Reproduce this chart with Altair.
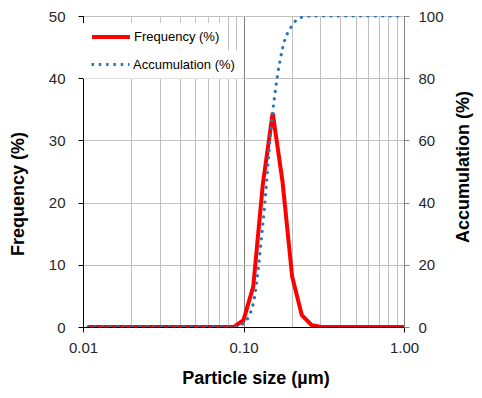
import altair as alt
import pandas as pd

# Particle size bins (µm)
sizes = [0.0107, 0.0123, 0.0141, 0.0163, 0.0187, 0.0215, 0.0247, 0.0284, 0.0327,
         0.0376, 0.0432, 0.0497, 0.0572, 0.0658, 0.0756, 0.0870, 0.100, 0.115,
         0.132, 0.152, 0.175, 0.201, 0.231, 0.266, 0.306, 0.352, 0.405, 0.465,
         0.535, 0.615, 0.708, 0.814, 0.936, 1.00]
# Frequency (%)
frequency = [0, 0, 0, 0, 0, 0, 0, 0, 0, 0, 0, 0, 0, 0, 0, 0, 1.1, 6.5,
             23.0, 34.4, 23.4, 8.1, 1.9, 0.3, 0, 0, 0, 0, 0, 0, 0, 0, 0, 0]
# Accumulation (%)
accumulation = [0, 0, 0, 0, 0, 0, 0, 0, 0, 0, 0, 0, 0, 0, 0, 0, 1.2, 7.5,
                33.0, 69.0, 89.5, 97.0, 99.6, 100, 100, 100, 100, 100, 100,
                100, 100, 100, 100, 100]

x_major = [0.01, 0.1, 1.0]
x_minor = [0.02, 0.03, 0.04, 0.05, 0.06, 0.07, 0.08, 0.09,
           0.2, 0.3, 0.4, 0.5, 0.6, 0.7, 0.8, 0.9]
freq_ticks = [0, 10, 20, 30, 40, 50]
acc_ticks = [0, 20, 40, 60, 80, 100]

df = pd.DataFrame({"size": sizes, "freq": frequency, "acc": accumulation})

FONT = "Liberation Sans"
LABEL_COLOR = "#262626"

x_scale = alt.Scale(type="log", domain=[0.01, 1.0])

leg_common = dict(orient="none", title=None, symbolType="stroke", symbolSize=1444,
                  clipHeight=14, fillColor="white", padding=7, labelFontSize=13,
                  labelFont=FONT, labelColor="black", labelOffset=2, legendX=0)

freq_line = alt.Chart(df).transform_calculate(series="'Frequency (%)'").mark_line(
    strokeWidth=4, clip=True
).encode(
    x=alt.X("size:Q", scale=x_scale,
            axis=alt.Axis(values=x_major, format=".2f", title="Particle size (µm)",
                          grid=True, gridColor="#808080", labelFlush=False,
                          domainColor="black", tickColor="black", tickSize=5,
                          labelPadding=8, labelFontSize=15, labelColor=LABEL_COLOR,
                          titleFontSize=18, titleFontWeight="bold", titleColor="black",
                          titleX=172.5, titleY=56, titleBaseline="alphabetic")),
    y=alt.Y("freq:Q", scale=alt.Scale(domain=[0, 50]),
            axis=alt.Axis(orient="left", values=freq_ticks, title="Frequency (%)",
                          grid=True, gridColor="#c0c0c0", domainColor="black",
                          tickColor="black", tickSize=5, labelPadding=13,
                          labelFontSize=15, labelColor=LABEL_COLOR,
                          titleFontSize=18, titleFontWeight="bold", titleColor="black",
                          titleAngle=270, titleX=-60, titleY=177.5,
                          titleBaseline="alphabetic", titleAlign="center")),
    color=alt.Color("series:N",
                    scale=alt.Scale(domain=["Frequency (%)"], range=["#FF0000"]),
                    legend=alt.Legend(legendY=7, symbolStrokeWidth=4, **leg_common)),
)

acc_line = alt.Chart(df).transform_calculate(series="'Accumulation (%)'").mark_line(
    strokeWidth=3.2, strokeDash=[0.1, 7.3], strokeCap="round",
    interpolate="monotone", clip=True
).encode(
    x=alt.X("size:Q", scale=x_scale,
            axis=alt.Axis(orient="top", values=x_minor, grid=True, gridColor="#c0c0c0",
                          labels=False, ticks=False, domain=False, title=None)),
    y=alt.Y("acc:Q", scale=alt.Scale(domain=[0, 100]),
            axis=alt.Axis(orient="right", values=acc_ticks, title="Accumulation (%)",
                          grid=False, domainColor="#868686", tickColor="#868686",
                          tickSize=5, labelPadding=9, labelFontSize=15,
                          labelColor=LABEL_COLOR, titleFontSize=18,
                          titleFontWeight="bold", titleColor="black",
                          titleAngle=270, titleX=64, titleY=150.5,
                          titleBaseline="alphabetic", titleAlign="center")),
    color=alt.Color("series:N",
                    scale=alt.Scale(domain=["Accumulation (%)"], range=["#2E75B6"]),
                    legend=alt.Legend(legendY=34.6, symbolStrokeWidth=3,
                                      symbolDash=[2.5, 4.8], **leg_common)),
)

chart = alt.layer(freq_line, acc_line).resolve_scale(
    y="independent", color="independent"
).resolve_axis(x="independent").properties(
    width=321, height=311,
    padding={"left": 75, "top": 8, "right": 70, "bottom": 63},
    autosize=alt.AutoSizeParams(type="none"),
    background="white",
).configure_view(stroke="black", strokeWidth=1).configure_axis(
    labelFont=FONT, titleFont=FONT
)

chart.save("out.html", embed_options={"renderer": "svg", "actions": False})
